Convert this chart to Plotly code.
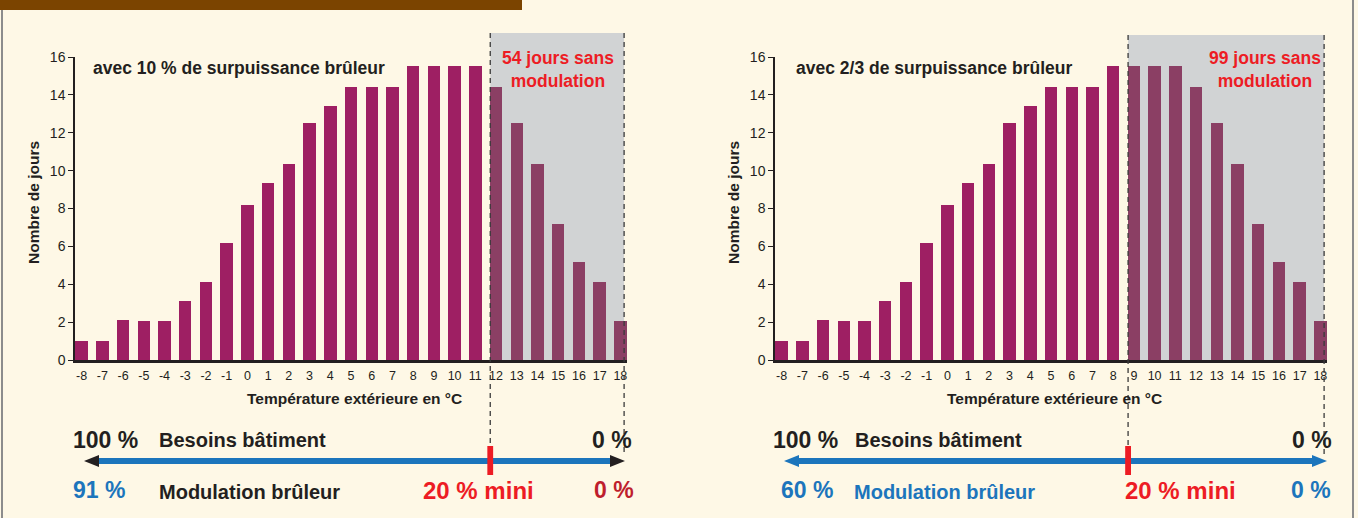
import plotly.graph_objects as go

# ---------------- data ----------------
temperatures = list(range(-8, 19))
tick_labels = [str(t) for t in temperatures]
jours = [1.0, 1.0, 2.1, 2.05, 2.05, 3.1, 4.1, 6.2, 8.2, 9.35, 10.35, 12.5, 13.4,
         14.4, 14.4, 14.4, 15.5, 15.5, 15.5, 15.5, 14.4, 12.5, 10.35, 7.2, 5.2, 4.1, 2.05]
y_ticks = list(range(0, 17, 2))

titles = ["avec 10 % de surpuissance brûleur", "avec 2/3 de surpuissance brûleur"]
seuils = [12, 9]
notes = ["54 jours sans<br>modulation", "99 jours sans<br>modulation"]
modulation_max = ["91 %", "60 %"]

# ---------------- style ----------------
W, H = 1358, 518
FONT = "Liberation Sans, Arial, Helvetica, sans-serif"
CREAM = "#FEF8E6"
BAR = "#9E1F63"
BAR_SHADE = "#8B3F64"
GREY = "#D1D3D4"
DARK = "#231F20"
RED = "#ED1C24"
BLUE = "#1C75BC"
DARKRED = "#BE1E2D"


def px(x):
    return x / W


def py(y):
    return 1 - y / H


domains = [[px(75), px(627)], [px(775), px(1327)]]
ydom = [py(360), py(57)]
xr = [-8.32, 18.32]

fig = go.Figure()
shapes = []
annotations = []


def ann(text, x, y, size, color, xanchor="center", bold=True, **kw):
    t = f"<b>{text}</b>" if bold else text
    annotations.append(dict(text=t, x=px(x), y=py(y), xref="paper", yref="paper", showarrow=False,
                            xanchor=xanchor, yanchor="middle", font=dict(size=size, color=color, family=FONT), **kw))


for i in range(2):
    xa = "x" if i == 0 else "x2"
    ya = "y" if i == 0 else "y2"
    seuil = seuils[i]
    colors = [BAR if t < seuil else BAR_SHADE for t in temperatures]
    fig.add_trace(go.Bar(x=temperatures, y=jours, width=0.6, marker=dict(color=colors, line=dict(width=0)),
                         xaxis=xa, yaxis=ya, showlegend=False, hoverinfo="x+y"))

    x_start = seuil - 0.28
    x_end = 18.18
    top = 33 if i == 0 else 35
    # shaded region
    shapes.append(dict(type="rect", xref=xa, yref="paper", x0=x_start, x1=x_end,
                       y0=py(360), y1=py(top), fillcolor=GREY, line=dict(width=0), layer="below"))
    # dashed lines
    shapes.append(dict(type="line", xref=xa, yref="paper", x0=x_start, x1=x_start,
                       y0=py(top), y1=py(446), line=dict(color="#3A3A3A", width=1.3, dash="5px,4px")))
    shapes.append(dict(type="line", xref=xa, yref="paper", x0=x_end, x1=x_end,
                       y0=py(top), y1=py(455), line=dict(color="#3A3A3A", width=1.3, dash="5px,4px")))

    ox = 0 if i == 0 else 700
    # blue arrow
    left_tip = 84 + ox
    right_tip = 625 + ox + (2 if i == 1 else 0)
    head_col = DARK if i == 0 else BLUE
    shapes.append(dict(type="line", xref="paper", yref="paper", x0=px(left_tip + 12), x1=px(right_tip - 12),
                       y0=py(461), y1=py(461), line=dict(color=BLUE, width=6)))
    shapes.append(dict(type="path", xref="paper", yref="paper",
                       path=f"M {px(left_tip)} {py(461)} L {px(left_tip + 15)} {py(455)} L {px(left_tip + 15)} {py(467)} Z",
                       fillcolor=head_col, line=dict(width=0)))
    shapes.append(dict(type="path", xref="paper", yref="paper",
                       path=f"M {px(right_tip)} {py(461)} L {px(right_tip - 15)} {py(455)} L {px(right_tip - 15)} {py(467)} Z",
                       fillcolor=head_col, line=dict(width=0)))
    # red marker
    shapes.append(dict(type="rect", xref=xa, yref="paper", x0=x_start - 0.14, x1=x_start + 0.14,
                       y0=py(475), y1=py(446), fillcolor=RED, line=dict(width=0)))

    chart_left = 75 + ox
    ann(titles[i], chart_left + 16 + (3 if i == 1 else 0), 68, 17.5, DARK, xanchor="left")
    note_cx = 558 if i == 0 else 1265
    annotations.append(dict(text=f"<b>{notes[i]}</b>", x=px(note_cx), y=py(70), xref="paper", yref="paper",
                            showarrow=False, xanchor="center", yanchor="middle",
                            font=dict(size=17.5, color=RED, family=FONT)))
    ann("Nombre de jours", 33 + ox, 203, 15.5, DARK, textangle=-90)
    ann("Température extérieure en °C", 354 + ox, 398, 15.5, DARK)

    ann("100 %", 105 + ox, 440, 23, DARK)
    ann("Besoins bâtiment", 157 + ox - (4 if i == 1 else 0), 440, 20, DARK, xanchor="left")
    ann("0 %", 612 + ox, 440, 23, DARK)
    ann(modulation_max[i], 99 + ox + (8 if i == 1 else 0), 490, 23, BLUE)
    ann("Modulation brûleur", 157 + ox - (5 if i == 1 else 0), 492, 20, DARK if i == 0 else BLUE, xanchor="left")
    ann("20 % mini", 478 + ox + (2 if i == 1 else 0), 490, 24, RED)
    ann("0 %", 614 + ox - (3 if i == 1 else 0), 490, 23, DARKRED if i == 0 else BLUE)

# page decorations
shapes.append(dict(type="rect", xref="paper", yref="paper", x0=0, x1=px(522), y0=py(10), y1=1,
                   fillcolor="#7B4400", line=dict(width=0)))
shapes.append(dict(type="line", xref="paper", yref="paper", x0=px(2), x1=px(2), y0=0, y1=py(10),
                   line=dict(color="#8C8C8C", width=2)))
shapes.append(dict(type="line", xref="paper", yref="paper", x0=px(1353), x1=px(1353), y0=0, y1=1,
                   line=dict(color="#8C8C8C", width=2)))

axis_common_x = dict(range=xr, tickmode="array", tickvals=temperatures, ticktext=tick_labels,
                     showgrid=False, zeroline=False, showline=True, linecolor=DARK, linewidth=3,
                     ticks="", tickfont=dict(size=12.5, color=DARK, family=FONT), fixedrange=True,
                     ticklabelstandoff=2, automargin=False)
axis_common_y = dict(range=[0, 16], domain=ydom, tickmode="array", tickvals=y_ticks,
                     showgrid=False, zeroline=False, showline=True, linecolor=DARK, linewidth=1.5,
                     ticks="outside", ticklen=5, tickwidth=1.3, tickcolor=DARK,
                     tickfont=dict(size=14, color=DARK, family=FONT), fixedrange=True, automargin=False)

fig.update_layout(
    width=W, height=H,
    margin=dict(l=0, r=0, t=0, b=0, autoexpand=False),
    paper_bgcolor=CREAM, plot_bgcolor=CREAM,
    bargap=0,
    xaxis=dict(domain=domains[0], anchor="y", **axis_common_x),
    yaxis=dict(anchor="x", **axis_common_y),
    xaxis2=dict(domain=domains[1], anchor="y2", **axis_common_x),
    yaxis2=dict(anchor="x2", **axis_common_y),
    shapes=shapes,
    annotations=annotations,
    font=dict(family=FONT, color=DARK),
)

fig.write_html("out.html", config={"displayModeBar": False})

# remove the default page margin so the figure sits at the window origin
with open("out.html", "r", encoding="utf-8") as f:
    html = f.read()
html = html.replace("<body>", '<body style="margin:0;padding:0;overflow:hidden;">', 1)
with open("out.html", "w", encoding="utf-8") as f:
    f.write(html)
